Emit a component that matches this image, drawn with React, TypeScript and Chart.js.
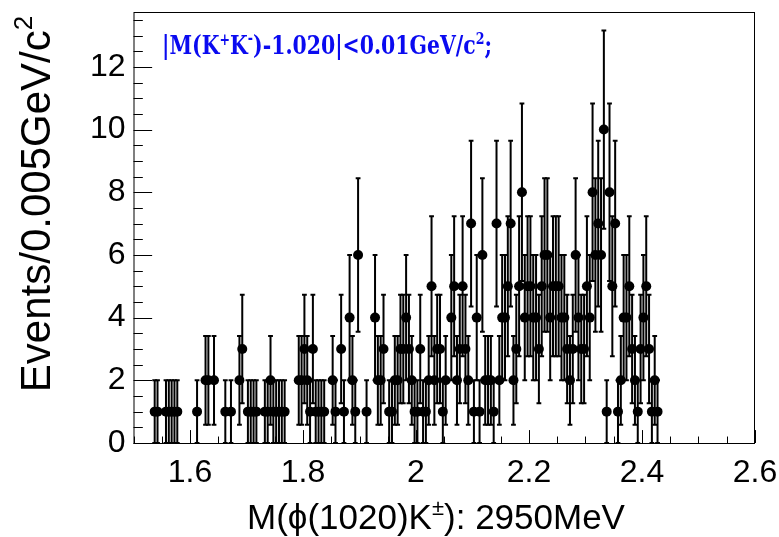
import React, { useEffect, useRef } from "react";
import { Chart, registerables } from "chart.js";

Chart.register(...registerables);

// Bin centres (GeV) and event counts per 0.005 GeV bin
const massGeV = [
  1.5375, 1.5425, 1.5575, 1.5625, 1.5675, 1.5725, 1.5775, 1.6125, 1.6275, 1.6325,
  1.6425, 1.6625, 1.6725, 1.6875, 1.6925, 1.7025, 1.7075, 1.7125, 1.7175, 1.7325,
  1.7375, 1.7425, 1.7475, 1.7525, 1.7575, 1.7625, 1.7675, 1.7925, 1.7975, 1.8025,
  1.8075, 1.8125, 1.8175, 1.8225, 1.8275, 1.8325, 1.8375, 1.8525, 1.8575, 1.8675,
  1.8725, 1.8825, 1.8875, 1.8925, 1.8975, 1.9125, 1.9275, 1.9325, 1.9375, 1.9425,
  1.9525, 1.9575, 1.9625, 1.9675, 1.9725, 1.9775, 1.9825, 1.9875, 1.9925, 1.9975,
  2.0025, 2.0075, 2.0125, 2.0175, 2.0225, 2.0275, 2.0325, 2.0375, 2.0425, 2.0475,
  2.0525, 2.0625, 2.0675, 2.0725, 2.0775, 2.0825, 2.0875, 2.0925, 2.0975, 2.1025,
  2.1075, 2.1125, 2.1175, 2.1225, 2.1275, 2.1325, 2.1375, 2.1425, 2.1475, 2.1525,
  2.1575, 2.1625, 2.1675, 2.1725, 2.1775, 2.1825, 2.1875, 2.1925, 2.1975, 2.2025,
  2.2075, 2.2125, 2.2175, 2.2225, 2.2275, 2.2325, 2.2375, 2.2425, 2.2475, 2.2525,
  2.2575, 2.2625, 2.2675, 2.2725, 2.2775, 2.2825, 2.2875, 2.2925, 2.2975, 2.3025,
  2.3075, 2.3125, 2.3175, 2.3225, 2.3275, 2.3325, 2.3375, 2.3425, 2.3475, 2.3525,
  2.3575, 2.3625, 2.3675, 2.3725, 2.3775, 2.3825, 2.3875, 2.3925, 2.3975, 2.4025,
  2.4075, 2.4125, 2.4175, 2.4225, 2.4275,
];
const events = [
  1, 1, 1, 1, 1, 1, 1, 1, 2, 2,
  2, 1, 1, 2, 3, 1, 1, 1, 1, 1,
  1, 2, 1, 1, 1, 1, 1, 2, 2, 3,
  2, 1, 3, 1, 1, 1, 1, 2, 1, 3,
  1, 4, 2, 1, 6, 1, 4, 2, 2, 3,
  1, 1, 2, 2, 3, 3, 4, 3, 2, 1,
  1, 3, 1, 1, 2, 5, 2, 3, 3, 1,
  2, 4, 5, 2, 3, 5, 3, 2, 7, 1,
  4, 1, 6, 2, 2, 2, 1, 7, 2, 4,
  4, 5, 7, 2, 3, 5, 8, 4, 5, 5,
  4, 4, 3, 5, 6, 6, 4, 5, 5, 5,
  4, 4, 3, 2, 3, 6, 4, 3, 3, 5,
  4, 8, 6, 7, 6, 10, 1, 8, 5, 7,
  1, 2, 4, 4, 5, 3, 2, 1, 3, 4,
  5, 3, 1, 2, 1,
];

const binWidth = 0.005;
const xMin = 1.5;
const xMax = 2.6;
const yMin = 0;
const yMax = 13.75;
const xTickValues = [1.6, 1.8, 2, 2.2, 2.4, 2.6];
const yTickValues = [0, 2, 4, 6, 8, 10, 12];
const xMinorStep = 0.05;
const yMinorStep = 0.5;

const FONT = '"Liberation Sans", Arial, Helvetica, sans-serif';
const SERIF = '"DejaVu Serif", "Liberation Serif", serif';

const rootStyle = {
  id: "rootStyle",
  beforeDatasetsDraw(chart: any) {
    const { ctx, scales } = chart;
    const x = scales.x;
    const y = scales.y;
    ctx.save();
    ctx.strokeStyle = "#000";
    ctx.lineWidth = 2;
    massGeV.forEach((m, i) => {
      const v = events[i];
      const e = Math.sqrt(v);
      const px = x.getPixelForValue(m);
      const top = y.getPixelForValue(v + e);
      const bot = y.getPixelForValue(Math.max(0, v - e));
      const py = y.getPixelForValue(v);
      ctx.beginPath();
      ctx.moveTo(px, top);
      ctx.lineTo(px, bot);
      ctx.moveTo(px - 2.4, top);
      ctx.lineTo(px + 2.4, top);
      ctx.moveTo(px - 2.4, bot);
      ctx.lineTo(px + 2.4, bot);
      ctx.moveTo(x.getPixelForValue(m - binWidth / 2), py);
      ctx.lineTo(x.getPixelForValue(m + binWidth / 2), py);
      ctx.stroke();
    });
    ctx.restore();
  },
  afterDraw(chart: any) {
    const { ctx, chartArea, scales } = chart;
    const x = scales.x;
    const y = scales.y;
    const { left, right, top, bottom } = chartArea;
    ctx.save();
    // frame
    ctx.strokeStyle = "#000";
    ctx.lineWidth = 1;
    ctx.strokeRect(left + 0.5, top + 0.5, right - left - 1, bottom - top);
    // inward ticks
    const hMaj = (bottom - top) * 0.03;
    const wMaj = (right - left) * 0.03;
    ctx.beginPath();
    for (let v = xMin; v <= xMax + 1e-9; v += xMinorStep) {
      const isMaj = xTickValues.some((t) => Math.abs(t - v) < 1e-6);
      const px = Math.round(x.getPixelForValue(v)) + 0.5;
      ctx.moveTo(px, bottom);
      ctx.lineTo(px, bottom - (isMaj ? hMaj : hMaj / 2));
    }
    for (let v = yMin; v <= yMax + 1e-9; v += yMinorStep) {
      const isMaj = yTickValues.some((t) => Math.abs(t - v) < 1e-6);
      const py = Math.round(y.getPixelForValue(v)) + 0.5;
      ctx.moveTo(left, py);
      ctx.lineTo(left + (isMaj ? wMaj : wMaj / 2), py);
    }
    ctx.stroke();

    // x title with superscript
    ctx.fillStyle = "#000";
    ctx.textBaseline = "alphabetic";
    ctx.textAlign = "left";
    const big = 35;
    const small = 22;
    const parts: [string, number, number][] = [
      ["M(\u03D5(1020)K", big, 0],
      ["\u00B1", small, -14],
      ["): 2950MeV", big, 0],
    ];
    let total = 0;
    parts.forEach(([t, s]) => {
      ctx.font = `${s}px ${FONT}`;
      total += ctx.measureText(t).width;
    });
    let cx = 436 - total / 2;
    const base = 529;
    parts.forEach(([t, s, dy]) => {
      ctx.font = `${s}px ${FONT}`;
      ctx.fillText(t, cx, base + dy);
      cx += ctx.measureText(t).width;
    });

    // y title
    ctx.save();
    ctx.translate(50, 204);
    ctx.rotate(-Math.PI / 2);
    const yParts: [string, number, number][] = [
      ["Events/0.005GeV/c", 42, 0],
      ["2", 26, -18],
    ];
    let yt = 0;
    yParts.forEach(([t, s]) => {
      ctx.font = `${s}px ${FONT}`;
      yt += ctx.measureText(t).width;
    });
    let yx = -yt / 2;
    yParts.forEach(([t, s, dy]) => {
      ctx.font = `${s}px ${FONT}`;
      ctx.fillText(t, yx, dy);
      yx += ctx.measureText(t).width;
    });
    ctx.restore();

    // annotation
    ctx.save();
    ctx.fillStyle = "#0a0af0";
    const aBig = 26;
    const aSmall = 16;
    const aParts: [string, number, number][] = [
      ["|M(K", aBig, 0],
      ["+", aSmall, -9],
      ["K", aBig, 0],
      ["-", aSmall, -11],
      [")-1.020|<0.01GeV/c", aBig, 0],
      ["2", aSmall, -10],
      [";", aBig, 0],
    ];
    let at = 0;
    aParts.forEach(([t, s]) => {
      ctx.font = `bold ${s}px ${SERIF}`;
      at += ctx.measureText(t).width;
    });
    const sx = 330 / at;
    ctx.translate(162, 54);
    ctx.scale(sx, 1);
    let ax = 0;
    aParts.forEach(([t, s, dy]) => {
      ctx.font = `bold ${s}px ${SERIF}`;
      ctx.fillText(t, ax, dy);
      ax += ctx.measureText(t).width;
    });
    ctx.restore();

    ctx.restore();
  },
};

export default function App() {
  const ref = useRef<HTMLCanvasElement | null>(null);
  useEffect(() => {
    if (!ref.current) return;
    const points = massGeV.map((m, i) => ({ x: m, y: events[i] }));
    const chart = new Chart(ref.current, {
      type: "scatter",
      data: {
        datasets: [
          {
            data: points,
            pointRadius: 5,
            pointHoverRadius: 5,
            pointBackgroundColor: "#000",
            pointBorderColor: "#000",
            pointBorderWidth: 0,
            showLine: false,
          },
        ],
      },
      options: {
        responsive: false,
        animation: false,
        events: [],
        layout: { padding: { top: 12, right: 24, left: 0, bottom: 0 } },
        plugins: { legend: { display: false }, tooltip: { enabled: false } },
        scales: {
          x: {
            type: "linear",
            min: xMin,
            max: xMax,
            grid: { display: false, drawTicks: false },
            border: { display: false },
            afterBuildTicks: (s: any) => {
              s.ticks = xTickValues.map((v) => ({ value: v }));
            },
            afterFit: (s: any) => {
              s.height = 94;
              s.paddingLeft = 0;
              s.paddingRight = 0;
            },
            ticks: {
              color: "#000",
              padding: 11,
              maxRotation: 0,
              autoSkip: false,
              font: { family: FONT, size: 32 },
              callback: (v: any) => String(v),
            },
          },
          y: {
            type: "linear",
            min: yMin,
            max: yMax,
            grid: { display: false, drawTicks: false },
            border: { display: false },
            afterBuildTicks: (s: any) => {
              s.ticks = yTickValues.map((v) => ({ value: v }));
            },
            afterFit: (s: any) => {
              s.width = 133.5;
              s.paddingTop = 0;
              s.paddingBottom = 0;
            },
            ticks: {
              color: "#000",
              padding: 8,
              autoSkip: false,
              font: { family: FONT, size: 32 },
              callback: (v: any) => String(v),
            },
          },
        },
      },
      plugins: [rootStyle],
    });
    return () => chart.destroy();
  }, []);
  return (
    <div style={{ position: "fixed", left: 0, top: 0, width: 779, height: 537, background: "#fff" }}>
      <canvas ref={ref} width={779} height={537} style={{ width: 779, height: 537, display: "block" }} />
    </div>
  );
}
